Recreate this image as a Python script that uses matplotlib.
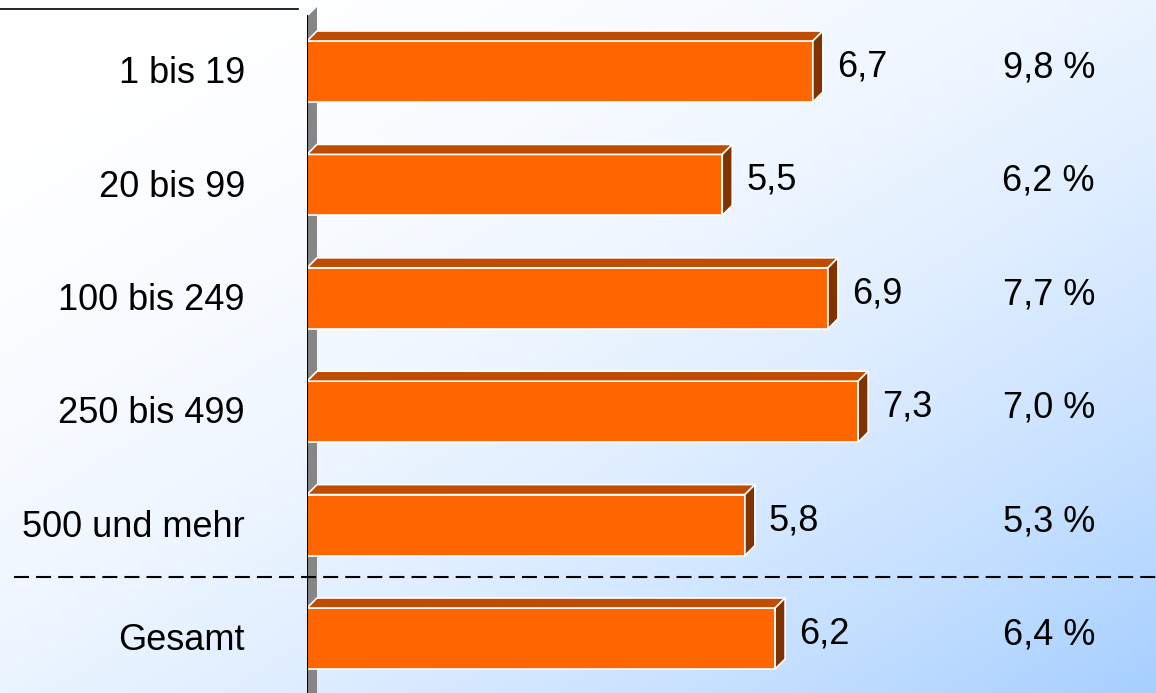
import matplotlib
matplotlib.use("Agg")
import matplotlib.pyplot as plt
import numpy as np
from matplotlib.lines import Line2D
from matplotlib.patches import Polygon
from matplotlib import transforms

plt.rcParams['font.family'] = ['Liberation Sans', 'DejaVu Sans']

# data
categories = ["1 bis 19", "20 bis 99", "100 bis 249", "250 bis 499", "500 und mehr", "Gesamt"]
values = [6.7, 5.5, 6.9, 7.3, 5.8, 6.2]
shares = ["9,8 %", "6,2 %", "7,7 %", "7,0 %", "5,3 %", "6,4 %"]

W, H = 1156, 693
fig = plt.figure(figsize=(W / 100, H / 100), dpi=100)

# background gradient, white top-left to light blue bottom-right
bg = fig.add_axes([0, 0, 1, 1])
xx, yy = np.meshgrid(np.linspace(0, 1, 400), np.linspace(0, 1, 240))
t = ((xx + yy) / 2) ** 2.1
c0 = np.array([1.0, 1.0, 1.0])
c1 = np.array([166, 207, 255]) / 255
img = c0 + (c1 - c0) * t[..., None]
bg.imshow(img, aspect="auto", extent=[0, 1, 1, 0])
bg.set_axis_off()

# main axes: zero of the value scale sits at pixel 307
x0 = 307
ax = fig.add_axes([x0 / W, 0, (W - x0) / W, 1])
ax.patch.set_alpha(0)
px_x = 75.5   # pixels per unit
px_y = 113.4  # pixels per category step
ax.set_xlim(0, (W - x0) / px_x)
ax.set_ylim(5 + (H - 638.5) / px_y, -71.5 / px_y)
ax.set_axis_off()

ypos = np.arange(len(categories))
h = 61 / px_y
dx = 10 / px_x
dy = 10 / px_y

front = "#FF6600"
top_c = "#BF4C00"
side_c = "#803300"

# grey back wall
ytop = (17 - 71.5) / px_y
ybot = ax.get_ylim()[0] + 0.2
ax.add_patch(Polygon([(0, ybot), (0, ytop), (dx, ytop - dy), (dx, ybot - dy)],
                     closed=True, facecolor="#868686", edgecolor="none", zorder=1))

ax.barh(ypos, values, height=h, color=front, edgecolor="white", linewidth=1.2, zorder=3)
for y, v in zip(ypos, values):
    yt = y - h / 2
    yb = y + h / 2
    ax.add_patch(Polygon([(0, yt), (v, yt), (v + dx, yt - dy), (dx, yt - dy)],
                         closed=True, facecolor=top_c, edgecolor="white", linewidth=1.2, zorder=3))
    ax.add_patch(Polygon([(v, yt), (v + dx, yt - dy), (v + dx, yb - dy), (v, yb)],
                         closed=True, facecolor=side_c, edgecolor="white", linewidth=1.2, zorder=3))
    ax.annotate(f"{v:.1f}".replace(".", ","), xy=(v + dx, y - 0.04), xytext=(10, 0),
                textcoords="offset points", ha="left", va="center", fontsize=26, zorder=5)

# axis line
ax.axvline(0, ymin=0, ymax=1 - 16 / H, color="black", linewidth=1.5, zorder=4)

blend = transforms.blended_transform_factory(fig.transFigure, ax.transData)
for y, cat, s in zip(ypos, categories, shares):
    ax.text(245 / W, y + 0.02, cat, transform=blend, ha="right", va="center", fontsize=26)
    ax.text(1095 / W, y - 0.03, s, transform=blend, ha="right", va="center", fontsize=26)

# top-left rule and dashed separator before "Gesamt"
fig.add_artist(Line2D([0, 298 / W], [1 - 9 / H, 1 - 9 / H], color="black", linewidth=1.2,
                      transform=fig.transFigure))
fig.add_artist(Line2D([14 / W, 1], [1 - 577 / H, 1 - 577 / H], color="black", linewidth=1.5,
                      dashes=(7.2, 3.4), transform=fig.transFigure))

fig.savefig("out.png", dpi=100)
